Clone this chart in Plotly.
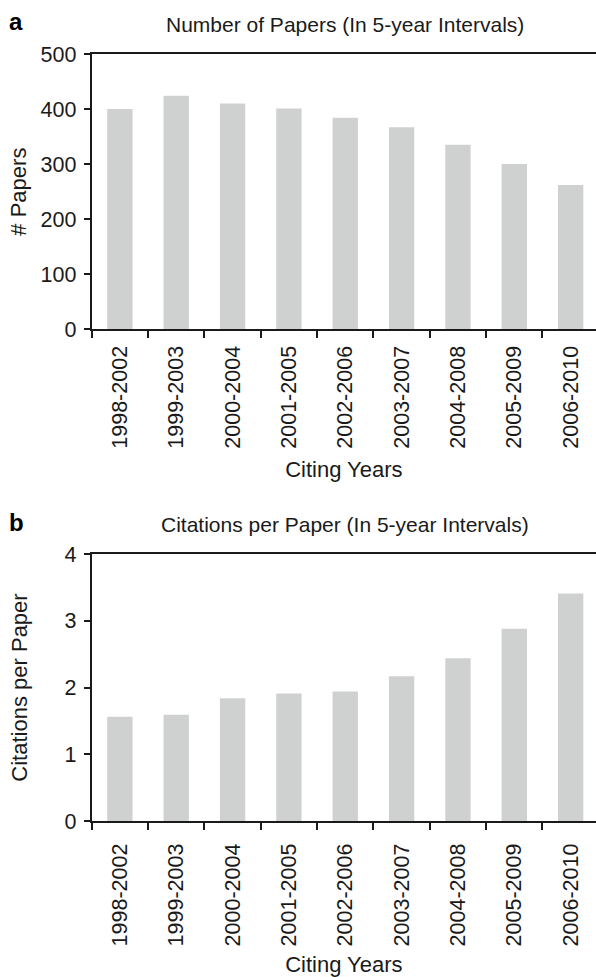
import plotly.graph_objects as go

# Citing-year windows and the two measures per window
periods = ["1998-2002", "1999-2003", "2000-2004", "2001-2005", "2002-2006",
           "2003-2007", "2004-2008", "2005-2009", "2006-2010"]
papers = [400, 424, 410, 401, 384, 367, 335, 300, 262]
citations_per_paper = [1.56, 1.59, 1.84, 1.91, 1.94, 2.17, 2.44, 2.88, 3.41]
papers_ticks = [0, 100, 200, 300, 400, 500]
cpp_ticks = [0, 1, 2, 3, 4]

W, H = 596, 977
BAR = "#cfd1d0"
INK = "#1a1a1a"
FONT = "Liberation Sans, Arial, Helvetica, sans-serif"
TICK_SIZE = 21.5
TITLE_SIZE = 22


def px_x(v):
    return v / W


def px_y(v):
    return 1 - v / H


fig = go.Figure()
fig.add_bar(x=periods, y=papers, marker=dict(color=BAR, line=dict(width=0)),
            xaxis="x", yaxis="y", hoverinfo="x+y")
fig.add_bar(x=periods, y=citations_per_paper, marker=dict(color=BAR, line=dict(width=0)),
            xaxis="x2", yaxis="y2", hoverinfo="x+y")

xdomain = [px_x(91.7), 1.0]

xcommon = dict(
    type="category", range=[-0.5, 8.45], autorange=False,
    tickson="boundaries", ticks="outside", ticklen=7, tickwidth=2, tickcolor=INK,
    showline=True, linewidth=2, linecolor=INK, mirror=True,
    tickangle=-90, tickfont=dict(size=TICK_SIZE, color=INK, family=FONT),
    showgrid=False, zeroline=False, automargin=False, domain=xdomain,
)
ycommon = dict(
    ticks="outside", ticklen=6, tickwidth=2, tickcolor=INK,
    showline=True, linewidth=2, linecolor=INK, mirror=False,
    tickfont=dict(size=TICK_SIZE, color=INK, family=FONT), ticklabelstandoff=3,
    showgrid=False, zeroline=False, automargin=False, autorange=False,
)

fig.update_layout(
    width=W, height=H,
    margin=dict(l=0, r=0, t=0, b=0),
    paper_bgcolor="white", plot_bgcolor="white",
    showlegend=False, bargap=0.55,
    font=dict(family=FONT, color=INK),
    xaxis=dict(xcommon, anchor="y", ticklabelstandoff=6,
               title=dict(text="Citing Years", font=dict(size=TITLE_SIZE, color=INK), standoff=14)),
    yaxis=dict(ycommon, anchor="x", domain=[px_y(329.3), px_y(54)], range=[0, 500],
               tickvals=papers_ticks,
               title=dict(text="# Papers", font=dict(size=TITLE_SIZE, color=INK), standoff=8)),
    xaxis2=dict(xcommon, anchor="y2", ticklabelstandoff=12,
                title=dict(text="Citing Years", font=dict(size=TITLE_SIZE, color=INK), standoff=14)),
    yaxis2=dict(ycommon, anchor="x2", domain=[px_y(821), px_y(554)], range=[0, 4],
                tickvals=cpp_ticks,
                title=dict(text="Citations per Paper", font=dict(size=TITLE_SIZE, color=INK), standoff=31)),
    annotations=[
        dict(text="Number of Papers (In 5-year Intervals)", x=px_x(345), y=px_y(25),
             xref="paper", yref="paper", xanchor="center", yanchor="middle",
             showarrow=False, font=dict(size=21, color=INK)),
        dict(text="Citations per Paper (In 5-year Intervals)", x=px_x(345), y=px_y(524),
             xref="paper", yref="paper", xanchor="center", yanchor="middle",
             showarrow=False, font=dict(size=21, color=INK)),
        dict(text="<b>a</b>", x=px_x(7), y=px_y(22), xref="paper", yref="paper",
             xanchor="left", yanchor="middle", showarrow=False,
             font=dict(size=24, color="black")),
        dict(text="<b>b</b>", x=px_x(7), y=px_y(522), xref="paper", yref="paper",
             xanchor="left", yanchor="middle", showarrow=False,
             font=dict(size=24, color="black")),
    ],
)

fig.write_html("out.html")
